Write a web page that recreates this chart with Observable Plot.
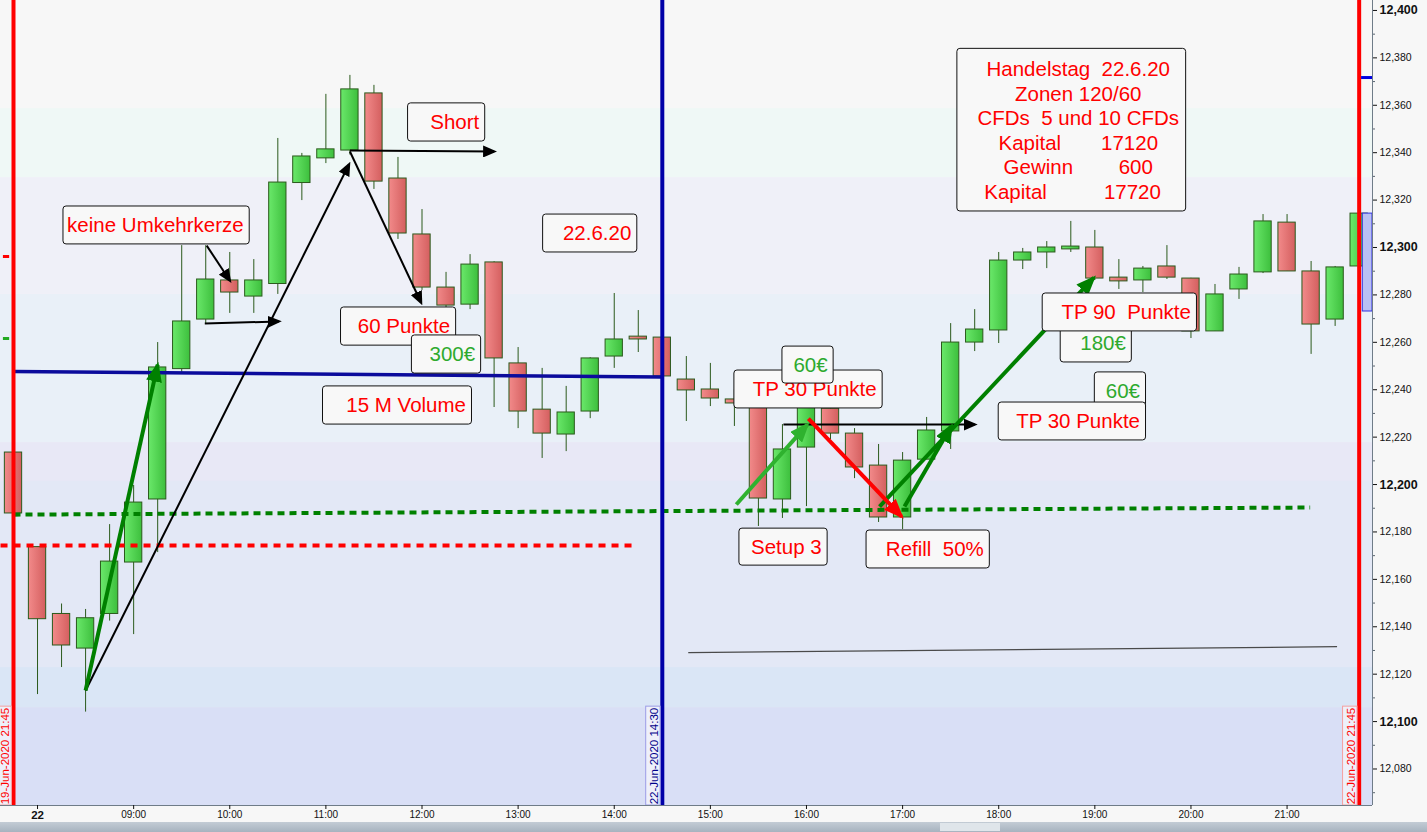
<!DOCTYPE html>
<html>
<head>
<meta charset="utf-8">
<script src="https://cdn.jsdelivr.net/npm/d3@7"></script>
<script src="https://cdn.jsdelivr.net/npm/@observablehq/plot@0.6"></script>
<style>
  body { margin: 0; background: #f7f7f7; overflow: hidden; font-family: Arial, "Liberation Sans", sans-serif; }
  #chart svg text { white-space: pre; }
  #bar { height: 10px; background: linear-gradient(#c3ccd5, #a7b3bf); position: relative; }
  #bar .thumb { position: absolute; left: 940px; width: 60px; top: 1px; bottom: 1px; background: #dfe5ea; }
</style>
</head>
<body>
<div id="chart"></div>
<div id="bar"><div class="thumb"></div></div>
<script>
// 15 minute candles, index 0 = 19-Jun 21:45, index 1 = 22-Jun 08:00 ... index 56 = 22-Jun 21:45
const open  = [12213.5, 12173.6, 12145.4, 12130.8, 12145.4, 12167.1, 12193.7, 12248.7, 12269.6, 12286.1,
               12279.3, 12284.6, 12327.2, 12337.6, 12340.9, 12365.0, 12329.1, 12305.5, 12283.1, 12275.9,
               12293.7, 12251.1, 12231.6, 12221.1, 12230.8, 12254.0, 12262.4, 12262.0, 12244.3, 12240.1,
               12235.9, 12233.3, 12193.7, 12215.6, 12232.0, 12221.5, 12208.0, 12186.1, 12210.5, 12222.4,
               12259.9, 12265.0, 12294.5, 12297.9, 12299.2, 12300.0, 12287.3, 12286.1, 12292.0, 12286.9,
               12264.6, 12282.3, 12289.5, 12310.5, 12289.9, 12269.6, 12292.0];
const high  = [12214.0, 12173.6, 12149.6, 12147.3, 12183.1, 12199.6, 12259.9, 12300.8, 12300.8, 12297.9,
               12294.9, 12346.0, 12339.7, 12364.6, 12372.6, 12368.4, 12338.0, 12316.0, 12289.5, 12297.0,
               12294.0, 12257.8, 12249.0, 12241.4, 12253.5, 12280.6, 12273.4, 12262.0, 12254.0, 12251.1,
               12240.0, 12236.0, 12225.3, 12236.0, 12236.0, 12223.6, 12216.9, 12213.5, 12228.3, 12267.9,
               12273.8, 12297.9, 12299.6, 12302.5, 12311.0, 12307.2, 12294.9, 12292.0, 12300.8, 12287.0,
               12284.4, 12291.6, 12313.9, 12313.9, 12294.1, 12292.0, 12315.2];
const low   = [12187.8, 12111.4, 12122.8, 12104.0, 12142.4, 12136.7, 12171.3, 12246.6, 12267.9, 12272.2,
               12272.2, 12280.2, 12319.8, 12335.4, 12339.0, 12324.5, 12303.4, 12281.9, 12274.7, 12273.8,
               12232.5, 12223.6, 12211.0, 12213.9, 12227.8, 12249.0, 12255.7, 12245.6, 12226.6, 12232.9,
               12224.5, 12182.3, 12185.7, 12190.7, 12219.0, 12202.5, 12184.0, 12181.0, 12210.5, 12214.8,
               12256.1, 12259.5, 12290.7, 12291.1, 12297.9, 12286.1, 12282.3, 12281.0, 12286.5, 12261.6,
               12264.6, 12278.1, 12289.0, 12289.9, 12254.9, 12266.7, 12292.0];
const close = [12187.8, 12143.2, 12132.1, 12143.6, 12167.5, 12192.4, 12249.4, 12268.8, 12286.5, 12281.0,
               12286.1, 12327.4, 12338.4, 12341.4, 12366.7, 12327.8, 12305.9, 12283.1, 12275.5, 12292.8,
               12253.2, 12230.8, 12221.5, 12230.4, 12253.2, 12261.2, 12261.2, 12245.6, 12239.7, 12236.3,
               12234.2, 12194.1, 12214.8, 12232.9, 12221.5, 12207.2, 12186.1, 12210.1, 12222.8, 12259.9,
               12265.4, 12294.5, 12297.9, 12300.0, 12300.4, 12286.9, 12285.7, 12291.1, 12287.3, 12264.6,
               12280.2, 12288.6, 12311.0, 12289.9, 12267.5, 12291.6, 12314.3];

const hourIdx    = [1, 5, 9, 13, 17, 21, 25, 29, 33, 37, 41, 45, 49, 53];
const hourLabels = ["22", "09:00", "10:00", "11:00", "12:00", "13:00", "14:00", "15:00",
                    "16:00", "17:00", "18:00", "19:00", "20:00", "21:00"];

// background zones (price bands)
const bandTop    = [12404.2, 12358.6, 12329.5, 12280.2, 12217.7, 12201.3, 12122.8, 12105.9];
const bandBottom = [12358.6, 12329.5, 12280.2, 12217.7, 12201.3, 12122.8, 12105.9, 12064.6];

// drawn levels
const levelKind = ["thin", "blue", "greenDots", "redDots"];
const levelX1   = [28.08, 0, 0, -0.54];
const levelY1   = [12129.1, 12247.7, 12187.3, 12174.3];
const levelX2   = [55.08, 26.96, 53.96, 25.96];
const levelY2   = [12131.6, 12245.4, 12190.3, 12174.3];

// arrows
const arrowKind = ["green", "black", "black", "black", "black", "black", "lime", "red", "green", "green", "black"];
const arrowX1   = [3.0, 3.0, 7.96, 8.04, 14.0, 14.0, 30.08, 33.08, 36.04, 37.08, 32.04];
const arrowY1   = [12113.1, 12113.1, 12267.9, 12300.8, 12340.9, 12340.5, 12191.6, 12227.8, 12190.7, 12190.7, 12225.3];
const arrowX2   = [6.0, 13.96, 11.04, 9.0, 20.0, 16.96, 33.04, 36.96, 44.96, 39.04, 40.0];
const arrowY2   = [12250.6, 12335.0, 12268.8, 12286.1, 12340.5, 12276.8, 12225.3, 12186.5, 12287.3, 12224.9, 12225.3];

// note boxes
const noteText   = ["keine Umkehrkerze", "Short", "22.6.20", "60 Punkte", "300€", "15 M Volume",
                    "TP 30 Punkte", "60€", "Setup 3", "Refill  50%", "180€", "TP 90  Punkte", "60€", "TP 30 Punkte"];
const noteX1     = [2.08, 16.42, 22.04, 13.63, 16.58, 12.88, 30.0, 32.0, 30.21, 35.5, 43.58, 42.83, 45.0, 41.0];
const noteX2     = [9.83, 19.63, 25.96, 18.42, 19.46, 19.08, 36.17, 34.13, 33.88, 40.63, 46.54, 49.25, 47.13, 47.13];
const noteTop    = [12317.3, 12360.8, 12313.9, 12274.7, 12262.9, 12241.4, 12248.1, 12258.2, 12181.4, 12180.6, 12267.5, 12280.6, 12247.3, 12234.6];
const noteBottom = [12301.3, 12344.7, 12297.9, 12258.6, 12246.8, 12225.3, 12232.1, 12242.6, 12165.8, 12164.6, 12251.5, 12264.6, 12231.2, 12218.6];

// summary box
const infoLines = ["Handelstag  22.6.20", "Zonen 120/60", "CFDs  5 und 10 CFDs",
                   "Kapital       17120", "Gewinn        600", "Kapital          17720  "];
const infoBox = {x1: 39.28, x2: 48.8, top: 12383.8, bottom: 12315.2, cx: 44.31, cy: 12349.7};

// session / time markers
const dateIdx   = [0, 27, 56];
const dateText  = ["19-Jun-2020 21:45", "22-Jun-2020 14:30", "22-Jun-2020 21:45"];
const dateKind  = ["session", "entry", "session"];
const dateLabelTop = 12106.3;

const lastRange  = [12273.0, 12314.3];
const alertLevel = 12371.7;
const sideMarks  = [12296.2, 12261.6];

const xDomain = [-0.541, 56.555];
const yDomain = [12064.6, 12404.2];

const WICK = "#2b5a1c";
const RED = "#ff0000", PROFIT = "#2eaa2e";
const bandFill = ["#f7f7f7", "#eff8f6", "#eff0f8", "#e9f0f8", "#e8e8f6", "#e3e8f6", "#dae6f6", "#d9dff6"];
const levelStyle = {
  thin:      {stroke: "#4a4a4a", strokeWidth: 1.2},
  blue:      {stroke: "#0b0b9c", strokeWidth: 3.5},
  greenDots: {stroke: "#008000", strokeWidth: 4, strokeDasharray: "7,5"},
  redDots:   {stroke: "#ff0000", strokeWidth: 4, strokeDasharray: "7,6"}
};
const arrowStyle = {
  black: {stroke: "#000", strokeWidth: 2},
  green: {stroke: "#008000", strokeWidth: 4},
  lime:  {stroke: "#2fb22f", strokeWidth: 4},
  red:   {stroke: "#ff0000", strokeWidth: 4}
};

const candles = open.map((o, i) => ({i, o, h: high[i], l: low[i], c: close[i]}));
const up = candles.filter(d => d.c >= d.o);
const down = candles.filter(d => d.c < d.o);
const bands = bandTop.map((t, k) => ({top: t, bottom: bandBottom[k], fill: bandFill[k]}));
const levels = levelKind.map((k, j) => ({kind: k, x1: levelX1[j], y1: levelY1[j], x2: levelX2[j], y2: levelY2[j]}));
const arrows = arrowKind.map((k, j) => ({kind: k, x1: arrowX1[j], y1: arrowY1[j], x2: arrowX2[j], y2: arrowY2[j]}));
const notes = noteText.map((t, j) => ({text: t, x1: noteX1[j], x2: noteX2[j], top: noteTop[j], bottom: noteBottom[j]}));
const dates = dateIdx.map((i, j) => ({i, text: dateText[j], kind: dateKind[j]}));

const noteMarks = notes.flatMap(n => [
  Plot.rect([n], {x1: "x1", x2: "x2", y1: "top", y2: "bottom", fill: "#f8f8f8", stroke: "#111", rx: 3}),
  Plot.text([n], {x: "x2", y: d => (d.top + d.bottom) / 2, text: "text", textAnchor: "end", dx: -6,
    fontSize: 20.5, fill: d => d.text.includes("€") ? PROFIT : RED})
]);

const chart = Plot.plot({
  width: 1427,
  height: 822,
  marginTop: 0,
  marginLeft: 0,
  marginRight: 55,
  marginBottom: 17,
  style: {background: "transparent", fontFamily: "Arial, 'Liberation Sans', sans-serif"},
  x: {domain: xDomain, label: null},
  y: {domain: yDomain, label: null},
  color: {type: "identity"},
  marks: [
    Plot.rect(bands, {x1: xDomain[0], x2: xDomain[1], y1: "bottom", y2: "top", fill: "fill"}),
    Plot.ruleX(candles, {x: "i", y1: "l", y2: "h", stroke: WICK, strokeWidth: 1}),
    Plot.rect(up, {x1: d => d.i - 0.36, x2: d => d.i + 0.36, y1: "o", y2: "c", fill: "url(#gUp)", stroke: WICK}),
    Plot.rect(down, {x1: d => d.i - 0.36, x2: d => d.i + 0.36, y1: "o", y2: "c", fill: "url(#gDn)", stroke: WICK}),
    ...levels.map(l => Plot.link([l], {x1: "x1", y1: "y1", x2: "x2", y2: "y2", ...levelStyle[l.kind]})),
    Plot.ruleX(dates, {x: "i", stroke: d => d.kind === "entry" ? "#0000a8" : "#ff0000", strokeWidth: 4}),
    ...Object.keys(arrowStyle).map(k => Plot.link(arrows.filter(a => a.kind === k),
      {x1: "x1", y1: "y1", x2: "x2", y2: "y2", ...arrowStyle[k], className: "arr-" + k})),
    ...noteMarks,
    Plot.rect([infoBox], {x1: "x1", x2: "x2", y1: "top", y2: "bottom", fill: "#f8f8f8", stroke: "#111", rx: 3}),
    Plot.text([infoLines.join("\n")], {x: infoBox.cx, y: infoBox.cy, text: d => d, fill: RED,
      fontSize: 20.5, lineHeight: 1.2, textAnchor: "middle"}),
    // time marker labels
    Plot.rect(dates, {x1: d => d.i - 0.67, x2: d => d.i - 0.07, y1: yDomain[0], y2: dateLabelTop,
      fill: "#eef0fa", stroke: d => d.kind === "entry" ? "#9c9ce6" : "#f4a0a0"}),
    Plot.text(dates, {x: "i", y: (yDomain[0] + dateLabelTop) / 2, text: "text", rotate: -90, dx: -8,
      fontSize: 11.5, fill: d => d.kind === "entry" ? "#00008b" : "#ff0000"}),
    // price axis extras
    Plot.rect([lastRange], {x1: 56.15, x2: xDomain[1], y1: d => d[0], y2: d => d[1], fill: "#b9c0f3", stroke: "#3030e0"}),
    Plot.ruleY([alertLevel], {x1: 56.1, x2: xDomain[1], stroke: "#0000e0", strokeWidth: 3}),
    Plot.ruleY(sideMarks, {x1: -0.42, x2: -0.16, stroke: (d, k) => k === 0 ? "#ff0000" : "#22aa22", strokeWidth: 3}),
    Plot.ruleX([xDomain[1]], {stroke: "#6f7c88"}),
    Plot.ruleY([yDomain[0]], {stroke: "#6f7c88"}),
    Plot.axisY(d3.range(12070, 12400, 20), {anchor: "right", tickSize: 2, tickFormat: () => "", stroke: "#5a6570", label: null}),
    Plot.axisY(d3.range(12080, 12401, 20), {anchor: "right", tickSize: 4, tickPadding: 3, fontSize: 10.5,
      tickFormat: d3.format(","), color: "#111", label: null}),
    Plot.axisX(hourIdx, {anchor: "bottom", tickSize: 4, tickPadding: 1, fontSize: 10,
      tickFormat: d => hourLabels[hourIdx.indexOf(d)], color: "#111", label: null})
  ]
});

document.getElementById("chart").append(chart);

const svg = d3.select(chart);
svg.selectAll("text").attr("xml:space", "preserve");
const defs = svg.insert("defs", ":first-child");

function gradient(id, from, to) {
  const g = defs.append("linearGradient").attr("id", id).attr("x1", 0).attr("x2", 1).attr("y1", 0).attr("y2", 0);
  g.append("stop").attr("offset", 0).attr("stop-color", from);
  g.append("stop").attr("offset", 1).attr("stop-color", to);
}
gradient("gUp", "#6ae86a", "#3dbf3d");
gradient("gDn", "#f28a8a", "#d45f5f");

function marker(id, color, len, wid) {
  const m = defs.append("marker").attr("id", id)
    .attr("viewBox", `0 0 ${len} ${wid}`).attr("refX", len - 3).attr("refY", wid / 2)
    .attr("markerWidth", len).attr("markerHeight", wid)
    .attr("markerUnits", "userSpaceOnUse").attr("orient", "auto");
  m.append("path").attr("d", `M0,0L${len},${wid / 2}L0,${wid}Z`).attr("fill", color);
}
marker("mk-black", "#000", 14, 12);
marker("mk-green", "#008000", 20, 16);
marker("mk-lime", "#2fb22f", 20, 16);
marker("mk-red", "#ff0000", 20, 16);
for (const k of Object.keys(arrowStyle)) {
  svg.selectAll(".arr-" + k + " path").attr("marker-end", `url(#mk-${k})`);
}

// bold hundreds on the price axis and the day label
svg.selectAll("text").each(function() {
  const t = this.textContent;
  if (/^\d{2},\d00$/.test(t)) d3.select(this).attr("font-weight", "bold").attr("font-size", 12.5);
  if (t === "22") d3.select(this).attr("font-weight", "bold").attr("font-size", 11.5);
});
</script>
</body>
</html>
